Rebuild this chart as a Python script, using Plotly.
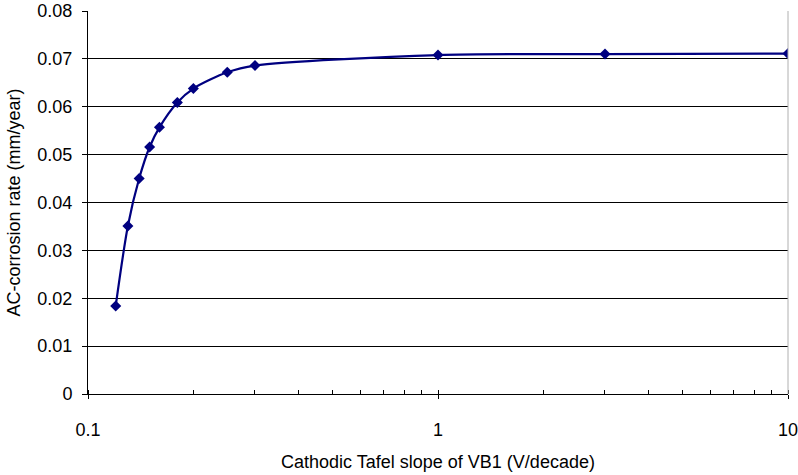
import plotly.graph_objects as go

slope = [0.12, 0.13, 0.14, 0.15, 0.16, 0.18, 0.2, 0.25, 0.3, 1, 3, 10]
rate = [0.0184, 0.0351, 0.0450, 0.0516, 0.0557, 0.0609, 0.0638, 0.0672, 0.0686, 0.0708, 0.0710, 0.0711]

y_ticks = [0, 0.01, 0.02, 0.03, 0.04, 0.05, 0.06, 0.07, 0.08]
y_labels = ["0", "0.01", "0.02", "0.03", "0.04", "0.05", "0.06", "0.07", "0.08"]
x_ticks = [0.1, 1, 10]
x_labels = ["0.1", "1", "10"]

navy = "#000080"
font = dict(family="Liberation Sans, Arial, sans-serif", size=18, color="black")

fig = go.Figure()
fig.add_trace(go.Scatter(
    x=slope, y=rate, mode="lines+markers",
    line=dict(color=navy, width=2.2, shape="spline", smoothing=0.8),
    marker=dict(symbol="diamond", size=8.5, color=navy),
    showlegend=False,
))

fig.update_layout(
    width=798, height=475,
    margin=dict(l=87.5, r=10, t=10.5, b=81),
    paper_bgcolor="white", plot_bgcolor="white",
    font=font,
    xaxis=dict(
        type="log", range=[-1, 1], automargin=False,
        tickvals=x_ticks, ticktext=x_labels,
        ticks="outside", ticklen=4, tickcolor="black", tickwidth=1,
        ticklabelstandoff=15, ticklabeloverflow="allow",
        minor=dict(ticks="inside", ticklen=4, tickcolor="black", dtick="D1", showgrid=False),
        showline=True, linecolor="black", linewidth=1,
        showgrid=False, zeroline=False,
        title=dict(text="Cathodic Tafel slope of VB1 (V/decade)", font=font, standoff=16),
    ),
    yaxis=dict(
        range=[0, 0.08], automargin=False,
        tickvals=y_ticks, ticktext=y_labels,
        ticks="outside", ticklen=5, tickcolor="black", tickwidth=1,
        ticklabelstandoff=6, ticklabeloverflow="allow",
        showline=True, linecolor="black", linewidth=1,
        showgrid=True, gridcolor="black", gridwidth=1,
        zeroline=False,
        title=dict(text="AC-corrosion rate (mm/year)", font=font, standoff=12),
    ),
)

fig.add_shape(type="line", xref="paper", yref="paper", x0=1, x1=1, y0=0, y1=1,
              line=dict(color="#b0b0b0", width=1))

fig.write_html("out.html")
